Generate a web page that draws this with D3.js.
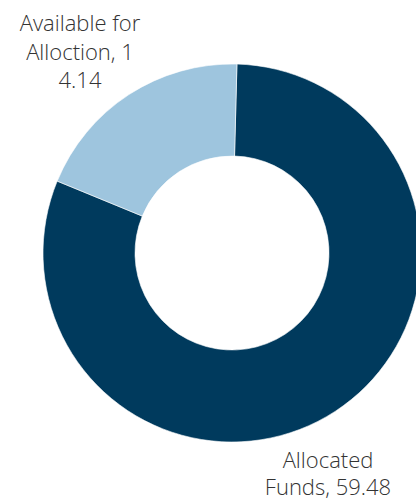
<!DOCTYPE html>
<html>
<head>
<meta charset="utf-8">
<script src="https://cdn.jsdelivr.net/npm/d3@7"></script>
<style>
  body { margin: 0; background: #fff; }
  svg { display: block; }
</style>
</head>
<body>
<svg id="chart" width="416" height="500"></svg>
<script>
// data
var categories = ["Allocated Funds", "Available for Allocation"];
var values = [59.48, 14.14];
var labelLines = [
    ["Allocated", "Funds, 59.48"],
    ["Available for", "Alloction, 1", "4.14"]
];
var colors = ["#003a5d", "#9ec5de"];

var svg = d3.select("#chart"),
    WIDTH = 416,
    HEIGHT = 500,
    cx = 232,
    cy = 253,
    outerR = 189,
    innerR = 97;

var pie = d3.pie()
    .sort(null)
    .startAngle(1.5 * Math.PI / 180)
    .endAngle((360 + 1.5) * Math.PI / 180);

var arc = d3.arc()
    .innerRadius(innerR)
    .outerRadius(outerR);

var arcs = pie(values);

var g = svg.append("g")
    .attr("transform", "translate(" + cx + "," + cy + ")");

g.selectAll("path")
    .data(arcs)
    .enter()
    .append("path")
    .attr("d", arc)
    .attr("fill", function (d, i) { return colors[i]; })
    .attr("stroke", "#ffffff")
    .attr("stroke-width", 0.6);

// label placement (text anchor points, relative to page)
var labelPos = [
    { x: 328, y: 468, lh: 26.5 },
    { x: 80, y: 31, lh: 28.5 }
];

var labels = svg.selectAll("text.label")
    .data(arcs)
    .enter()
    .append("text")
    .attr("class", "label")
    .attr("text-anchor", "middle")
    .attr("font-family", "'Open Sans', sans-serif")
    .attr("font-weight", 300)
    .attr("font-size", 22)
    .attr("fill", "#333333")
    .attr("x", function (d, i) { return labelPos[i].x; })
    .attr("y", function (d, i) { return labelPos[i].y; });

labels.each(function (d, i) {
    var t = d3.select(this);
    labelLines[i].forEach(function (line, k) {
        t.append("tspan")
            .attr("x", labelPos[i].x)
            .attr("dy", k === 0 ? 0 : labelPos[i].lh)
            .text(line);
    });
});
</script>
</body>
</html>
